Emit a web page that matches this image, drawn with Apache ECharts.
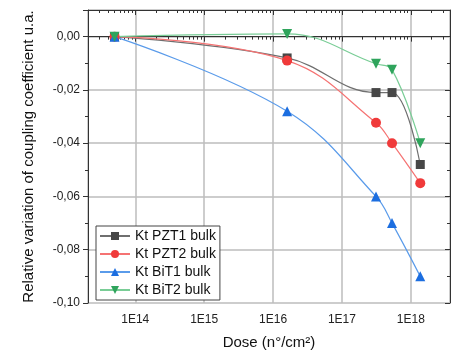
<!DOCTYPE html>
<html>
<head>
<meta charset="utf-8">
<script src="https://cdn.jsdelivr.net/npm/echarts@6/dist/echarts.min.js"></script>
<style>
html,body{margin:0;padding:0;background:#fff;}
#chart{width:452px;height:350px;}
</style>
</head>
<body>
<div id="chart"></div>
<script>
// données
var doses = [5e13, 1.6e16, 3.12e17, 5.33e17, 1.37e18];
var pzt1 = [0, -0.008, -0.021, -0.021, -0.048];
var pzt2 = [0, -0.009, -0.0323, -0.040, -0.055];
var bit1 = [0, -0.028, -0.060, -0.070, -0.090];
var bit2 = [0, 0.001, -0.0102, -0.0124, -0.040];
var seriesNames = ['Kt PZT1 bulk', 'Kt PZT2 bulk', 'Kt BiT1 bulk', 'Kt BiT2 bulk'];
var xMajor = [1e14, 1e15, 1e16, 1e17, 1e18];
var xTickLabels = ['1E14', '1E15', '1E16', '1E17', '1E18'];

var xMin = 2.06e13, xMax = 3.7e18;
var xMinor = [];
for (var e = 13; e <= 18; e++) {
  for (var k = 2; k <= 9; k++) {
    var v = k * Math.pow(10, e);
    if (v > xMin && v < xMax) xMinor.push(v);
  }
}

var pairs = function (ys) {
  return doses.map(function (d, i) { return [d, ys[i]]; });
};

var fmtY = function (v) {
  var s = Math.abs(v) < 1e-9 ? '0.00' : v.toFixed(2);
  return s.replace('.', ',');
};
var fmtX = function (v) {
  for (var j = 0; j < xMajor.length; j++) {
    if (Math.abs(v / xMajor[j] - 1) < 1e-6) return xTickLabels[j];
  }
  return '';
};

var axisCol = '#333';
var gridCol = '#bdbdbd';

var mkSeries = function (name, ys, symbol, mColor, lColor, size, rot) {
  return {
    name: name,
    type: 'line',
    data: pairs(ys),
    smooth: 0.4,
    symbol: symbol,
    symbolSize: size,
    symbolRotate: rot || 0,
    showAllSymbol: true,
    lineStyle: { color: lColor, width: 1.2 },
    itemStyle: { color: mColor },
    z: 5
  };
};

var chart = echarts.init(document.getElementById('chart'));
var option = {
  backgroundColor: '#fff',
  animation: false,
  textStyle: { fontFamily: 'Liberation Sans, Arial, sans-serif' },
  grid: { left: 88, right: 2, top: 10, bottom: 47, outerBoundsMode: 'none', containLabel: false },
  legend: {
    orient: 'vertical',
    left: 96,
    top: 226,
    itemWidth: 30,
    itemHeight: 10,
    itemGap: 4,
    padding: [3, 4, 3, 3],
    borderColor: '#444',
    borderWidth: 1,
    backgroundColor: '#fff',
    textStyle: { fontSize: 14, color: '#111' },
    data: seriesNames
  },
  xAxis: [{
    type: 'log', logBase: 10, position: 'bottom', min: xMin, max: xMax,
    name: 'Dose (n°/cm²)', nameLocation: 'middle', nameGap: 32,
    nameTextStyle: { fontSize: 15, color: '#111' },
    axisLine: { show: true, lineStyle: { color: axisCol, width: 1 } },
    axisTick: { show: true, length: 5, lineStyle: { color: axisCol } },
    axisLabel: { formatter: fmtX, color: '#222', fontSize: 12, margin: 11, showMinLabel: false, showMaxLabel: false },
    splitLine: { show: true, lineStyle: { color: gridCol, width: 1.5 } }
  }, {
    type: 'log', logBase: 10, position: 'bottom', min: xMin, max: xMax,
    axisLine: { show: false },
    axisTick: { show: true, customValues: xMinor, length: 3, lineStyle: { color: axisCol } },
    axisLabel: { show: false },
    splitLine: { show: false }
  }, {
    type: 'log', logBase: 10, position: 'top', min: xMin, max: xMax,
    axisLine: { show: true, lineStyle: { color: axisCol, width: 1 } },
    axisTick: { show: true, inside: true, length: 5, lineStyle: { color: axisCol } },
    axisLabel: { show: false },
    splitLine: { show: false }
  }, {
    type: 'log', logBase: 10, position: 'top', min: xMin, max: xMax,
    axisLine: { show: false },
    axisTick: { show: true, inside: true, customValues: xMinor, length: 3, lineStyle: { color: axisCol } },
    axisLabel: { show: false },
    splitLine: { show: false }
  }],
  yAxis: [{
    type: 'value', position: 'left', min: -0.10, max: 0.01, interval: 0.02,
    name: 'Relative variation of coupling coefficient u.a.', nameLocation: 'middle', nameGap: 52,
    nameTextStyle: { fontSize: 15, color: '#111' },
    axisLine: { show: true, lineStyle: { color: axisCol, width: 1 } },
    axisTick: { show: true, length: 5, lineStyle: { color: axisCol } },
    minorTick: { show: true, splitNumber: 2, length: 3, lineStyle: { color: axisCol } },
    axisLabel: { formatter: fmtY, color: '#222', fontSize: 12, margin: 8, showMaxLabel: false },
    splitLine: { show: true, lineStyle: { color: gridCol, width: 1.5 } }
  }, {
    type: 'value', position: 'right', min: -0.10, max: 0.01, interval: 0.02,
    axisLine: { show: true, lineStyle: { color: axisCol, width: 1 } },
    axisTick: { show: true, inside: true, length: 5, lineStyle: { color: axisCol } },
    minorTick: { show: true, splitNumber: 2, length: 3, lineStyle: { color: axisCol } },
    axisLabel: { show: false },
    splitLine: { show: false }
  }],
  series: [
    mkSeries(seriesNames[0], pzt1, 'rect', '#474747', '#6f6f6f', 9),
    mkSeries(seriesNames[1], pzt2, 'circle', '#f03a3a', '#f57373', 10),
    mkSeries(seriesNames[2], bit1, 'triangle', '#1c6ee0', '#5a9bea', 10),
    mkSeries(seriesNames[3], bit2, 'triangle', '#2fa45c', '#79cd96', 10, 180)
  ]
};
chart.setOption(option);
</script>
</body>
</html>
